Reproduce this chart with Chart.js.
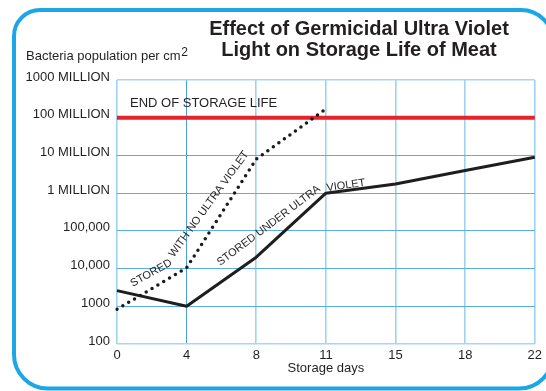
<!DOCTYPE html>
<html>
<head>
<meta charset="utf-8">
<script src="https://cdn.jsdelivr.net/npm/chart.js@4.4.0/dist/chart.umd.min.js"></script>
<style>
  html, body { margin: 0; padding: 0; background: #ffffff; }
  #wrap { width: 546px; height: 391px; position: relative; }
</style>
</head>
<body>
<div id="wrap"><canvas id="c" width="546" height="391"></canvas></div>
<script>
// Storage days along the bottom axis (equally spaced positions)
const storageDays = ['0', '4', '8', '11', '15', '18', '22'];

// Bacteria population per cm² for each storage day
const storedUnderUltraViolet = [2600, 1000, 20000, 1000000, 1750000, 4000000, 9000000];
const storedWithNoUltraViolet = [830, 10500, 8000000, 170000000, null, null, null];
const endOfStorageLife = [1e8, 1e8, 1e8, 1e8, 1e8, 1e8, 1e8];

// Vertical axis decades and their printed labels
const yTickValues = [1e2, 1e3, 1e4, 1e5, 1e6, 1e7, 1e8, 1e9];
const yTickLabels = ['100', '1000', '10,000', '100,000', '1 MILLION', '10 MILLION', '100 MILLION', '1000 MILLION'];

// Text written along the lines: anchored to a data point, nudged in pixels
const lineNotes = [
  { text: 'END OF STORAGE LIFE', series: endOfStorageLife, at: 0, dx: 13, dy: -14, angle: 0, align: 'left', baseline: 'middle', size: 13 },
  { text: 'STORED', series: storedWithNoUltraViolet, at: 1, dx: -14, dy: -3, angle: -29, align: 'right', baseline: 'alphabetic', size: 11 },
  { text: 'WITH NO ULTRA VIOLET', series: storedWithNoUltraViolet, at: 1, dx: -13, dy: -10, angle: -54, align: 'left', baseline: 'alphabetic', size: 11 },
  { text: 'STORED UNDER ULTRA', series: storedUnderUltraViolet, at: 3, dx: -5, dy: -3, angle: -37, align: 'right', baseline: 'alphabetic', size: 11 },
  { text: 'VIOLET', series: storedUnderUltraViolet, at: 3, dx: 1, dy: -2, angle: -8, align: 'left', baseline: 'alphabetic', size: 11 }
];

const FONT = "'Liberation Sans', Arial, Helvetica, sans-serif";
const INK = '#231f20';
Chart.defaults.font.family = FONT;
Chart.defaults.color = INK;

const decorations = {
  id: 'decorations',
  beforeDraw(chart) {
    const ctx = chart.ctx;
    ctx.save();
    ctx.fillStyle = '#ffffff';
    ctx.fillRect(0, 0, chart.width, chart.height);
    // rounded frame
    ctx.beginPath();
    ctx.roundRect(14, 10, 539, 378.5, [26, 32, 34, 34]);
    ctx.lineWidth = 4;
    ctx.strokeStyle = '#1ba6e6';
    ctx.stroke();
    ctx.restore();
  },
  afterDraw(chart) {
    const ctx = chart.ctx;
    const area = chart.chartArea;
    ctx.save();
    ctx.fillStyle = INK;
    // heading
    ctx.font = 'bold 20px ' + FONT;
    ctx.textAlign = 'center';
    ctx.textBaseline = 'alphabetic';
    ctx.fillText('Effect of Germicidal Ultra Violet', 359, 34.5);
    ctx.fillText('Light on Storage Life of Meat', 359, 56);
    // vertical axis caption with superscript
    ctx.textAlign = 'left';
    ctx.font = '13px ' + FONT;
    const cap = 'Bacteria population per cm';
    ctx.fillText(cap, 26, 60);
    const w = ctx.measureText(cap).width;
    ctx.font = '12px ' + FONT;
    ctx.fillText('2', 26 + w + 0.5, 56);
    // horizontal axis caption
    ctx.font = '13px ' + FONT;
    ctx.textAlign = 'center';
    ctx.textBaseline = 'middle';
    ctx.fillText('Storage days', (area.left + area.right) / 2, 368);
    ctx.restore();
  },
  afterDatasetsDraw(chart) {
    const ctx = chart.ctx;
    const xs = chart.scales.x, ys = chart.scales.y;
    ctx.save();
    ctx.fillStyle = INK;
    lineNotes.forEach(n => {
      const px = xs.getPixelForValue(n.at) + n.dx;
      const py = ys.getPixelForValue(n.series[n.at]) + n.dy;
      ctx.save();
      ctx.translate(px, py);
      ctx.rotate(n.angle * Math.PI / 180);
      ctx.font = n.size + 'px ' + FONT;
      ctx.textAlign = n.align;
      ctx.textBaseline = n.baseline;
      ctx.fillText(n.text, 0, 0);
      ctx.restore();
    });
    ctx.restore();
  }
};

new Chart(document.getElementById('c'), {
  type: 'line',
  data: {
    labels: storageDays,
    datasets: [
      {
        label: 'Stored with no ultra violet',
        data: storedWithNoUltraViolet,
        borderColor: '#1a1a1a',
        borderWidth: 3.5,
        borderDash: [0, 6.8],
        borderCapStyle: 'round',
        pointRadius: 0,
        tension: 0,
        spanGaps: false
      },
      {
        label: 'Stored under ultra violet',
        data: storedUnderUltraViolet,
        borderColor: '#1e1e1e',
        borderWidth: 3,
        borderJoinStyle: 'round',
        pointRadius: 0,
        tension: 0
      },
      {
        label: 'End of storage life',
        data: endOfStorageLife,
        borderColor: '#e6222b',
        borderWidth: 4,
        pointRadius: 0,
        tension: 0
      }
    ]
  },
  options: {
    responsive: false,
    animation: false,
    layout: { padding: { left: 0, top: 80, right: 11, bottom: 0 } },
    plugins: { legend: { display: false }, tooltip: { enabled: false } },
    scales: {
      x: {
        type: 'category',
        offset: false,
        border: { display: false },
        grid: {
          drawTicks: false,
          color: c => c.index === 1 ? '#4a9ed9' : '#9dd3ef',
          lineWidth: c => c.index === 1 ? 1 : 1.6
        },
        ticks: { padding: 4, color: INK, font: { size: 13 }, maxRotation: 0, autoSkip: false },
        afterFit(scale) { scale.height = 47; }
      },
      y: {
        type: 'logarithmic',
        min: 100,
        max: 1e9,
        border: { display: false },
        grid: {
          drawTicks: false,
          color: c => (c.index === 0 || c.index === yTickValues.length - 1) ? '#a6d8f1' : '#5aaee2',
          lineWidth: c => (c.index === 0 || c.index === yTickValues.length - 1) ? 1.6 : 1
        },
        ticks: {
          padding: 7,
          labelOffset: -3,
          color: INK,
          font: { size: 13 },
          callback: v => {
            const i = yTickValues.indexOf(v);
            return i >= 0 ? yTickLabels[i] : '';
          }
        },
        afterBuildTicks(scale) { scale.ticks = yTickValues.map(v => ({ value: v })); },
        afterFit(scale) { scale.width = 117; }
      }
    }
  },
  plugins: [decorations]
});
</script>
</body>
</html>
